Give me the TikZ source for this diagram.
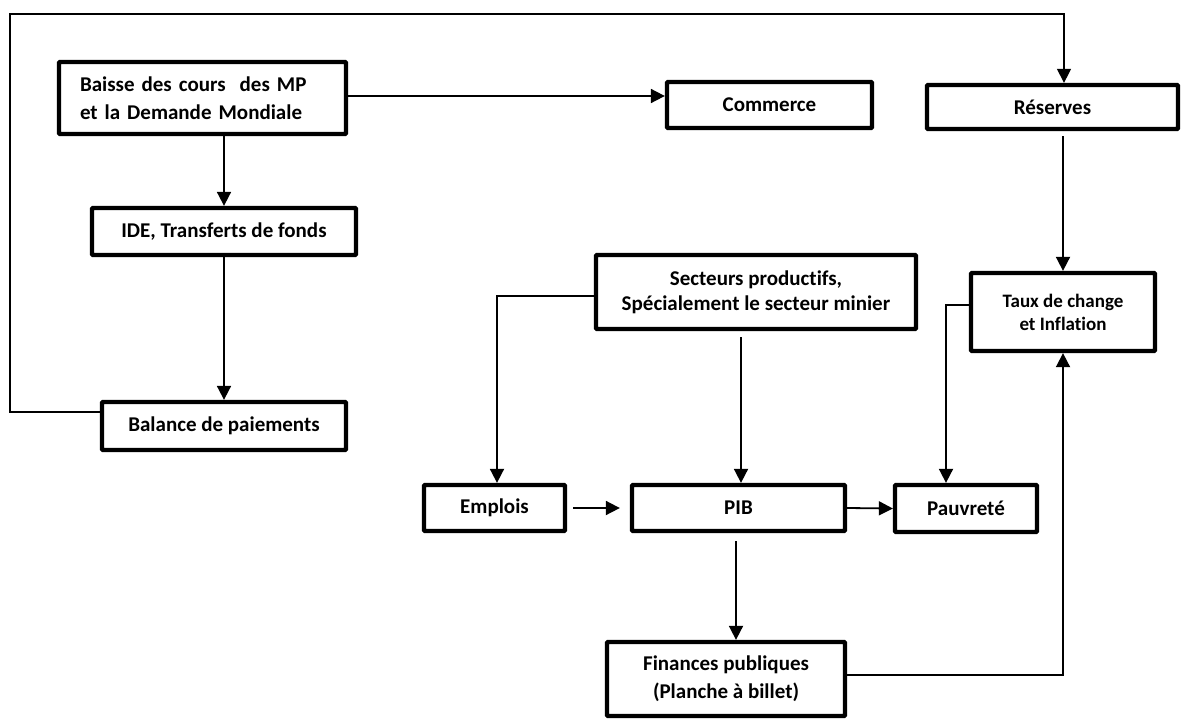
\documentclass[tikz,border=0pt]{standalone}
\usepackage{fontspec}
\setmainfont{Carlito}[Ligatures={NoCommon}]
\usetikzlibrary{arrows.meta}
\begin{document}
\begin{tikzpicture}[x=1pt,y=-1pt,
  box/.style={draw, line width=4.3pt, rounded corners=1pt, inner sep=0pt, align=center,
    font=\fontsize{21}{28}\selectfont\bfseries},
  conn/.style={line width=1.8pt, -{Triangle[length=14pt,width=14pt]}},
  loopline/.style={line width=1.4pt, -{Triangle[length=14pt,width=14pt]}}]
\fill[white] (0,0) rectangle (1182,720);
\useasboundingbox (0,0) rectangle (1182,720);

\node[box, minimum width=287pt, minimum height=72pt, text width=245pt, inner xsep=21pt, align=left] (baisse) at (202.5,98) {Baisse des cours~~des MP\\et la Demande Mondiale};
\node[box, minimum width=205pt, minimum height=46pt] (commerce) at (769.5,105) {Commerce};
\node[box, minimum width=251pt, minimum height=44pt] (reserves) at (1052.5,107) {Réserves};
\node[box, minimum width=264pt, minimum height=47pt] (ide) at (224,231.5) {IDE, Transferts de fonds};
\node[box, minimum width=244pt, minimum height=48pt] (balance) at (224,426) {Balance de paiements};
\node[box, minimum width=320pt, minimum height=74pt, font=\fontsize{21}{25}\selectfont\bfseries] (secteurs) at (756,292) {Secteurs productifs,\\Spécialement le secteur minier};
\node[box, minimum width=184pt, minimum height=78pt, font=\fontsize{19}{23}\selectfont\bfseries] (taux) at (1063,312) {Taux de change\\et Inflation};
\node[box, minimum width=141pt, minimum height=46pt] (emplois) at (494.5,508) {Emplois};
\node[box, minimum width=213pt, minimum height=46pt] (pib) at (738.5,508) {PIB};
\node[box, minimum width=142pt, minimum height=47pt] (pauvrete) at (966,508.5) {Pauvreté};
\node[box, minimum width=238pt, minimum height=74pt] (finances) at (726,679) {Finances publiques\\(Planche à billet)};

% outer feedback loop
\coordinate (bl) at (10,412);
\coordinate (tl) at (10,14);
\coordinate (tr) at (1064,14);
\draw[loopline] ([yshift=14pt]balance.west) -- (bl) -- (tl) -- (tr) -- (tr |- reserves.north);

% baisse -> commerce
\coordinate (c1) at ([yshift=2pt]baisse.east);
\draw[conn] (c1) -- (c1 -| commerce.west);

% baisse -> ide -> balance
\draw[conn] (ide.north |- baisse.south) -- (ide.north);
\draw[conn] (ide.south) -- (balance.north);

% reserves -> taux
\draw[conn, shorten <=5pt] (taux.north |- reserves.south) -- (taux.north);

% secteurs -> emplois
\coordinate (s1) at ([yshift=-4pt]secteurs.west);
\draw[conn] (s1) -| ([xshift=2.5pt]emplois.north);

% secteurs -> pib
\draw[conn, shorten <=6pt] ([xshift=2.5pt]pib.north |- secteurs.south) -- ([xshift=2.5pt]pib.north);

% emplois -> pib
\draw[conn, shorten <=6pt, shorten >=10pt] (emplois.east) -- (pib.west);

% pib -> pauvrete
\draw[conn] (pib.east) -- (pauvrete.west);

% taux -> pauvrete
\coordinate (t1) at ([yshift=7pt]taux.west);
\draw[conn] (t1) -| ([xshift=-20pt]pauvrete.north);

% pib -> finances
\draw[conn, shorten <=8pt] ([xshift=-2.5pt]pib.south) -- ([xshift=-2.5pt]pib.south |- finances.north);

% finances -> taux
\coordinate (f1) at ([yshift=4pt]finances.east);
\draw[conn] (f1) -| (taux.south);
\end{tikzpicture}
\end{document}
